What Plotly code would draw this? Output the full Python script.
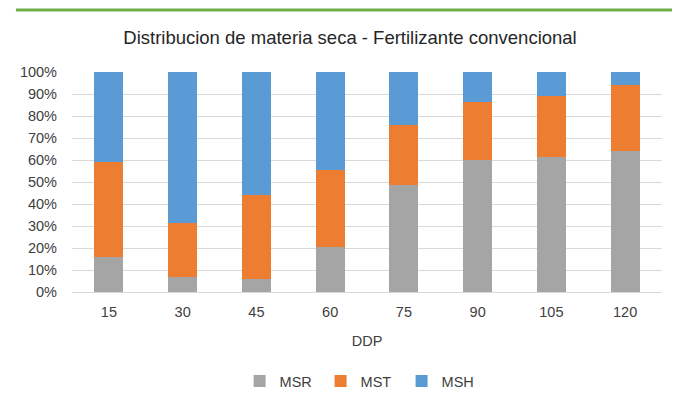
import plotly.graph_objects as go

categories = ["15", "30", "45", "60", "75", "90", "105", "120"]
msr = [16, 7, 6, 20.5, 48.5, 60, 61.5, 64]
mst = [43, 24.5, 38, 35, 27.5, 26.5, 27.5, 30]
msh = [41, 68.5, 56, 44.5, 24, 13.5, 11, 6]
tick_vals = [0, 10, 20, 30, 40, 50, 60, 70, 80, 90, 100]
tick_text = [f"{v}%" for v in tick_vals]

font = "Liberation Sans"
fig = go.Figure()
for name, vals, col in [("MSR", msr, "#A5A5A5"), ("MST", mst, "#ED7D31"), ("MSH", msh, "#5B9BD5")]:
    fig.add_trace(go.Bar(x=categories, y=vals, name=name, marker=dict(color=col, line=dict(width=0))))

# page has an 8px body margin, so figure coords = screen coords - 8
T, B, L, R = 64, 126, 62, 26
ph = 410 - T - B
fig.update_layout(
    barmode="stack",
    bargap=0.61,
    width=680, height=410,
    margin=dict(l=L, r=R, t=T, b=B),
    paper_bgcolor="white", plot_bgcolor="white",
    font=dict(family=font, size=14.5, color="#404040"),
    title=dict(text="Distribucion de materia seca - Fertilizante convencional",
               x=(350 - 8) / 680, xanchor="center", y=1 - 30 / 410, yanchor="middle",
               font=dict(family=font, size=18.5, color="#262626")),
    xaxis=dict(type="category", showgrid=False, showline=True, linecolor="#D9D9D9",
               ticks="", ticklabelstandoff=7,
               title=dict(text="DDP", standoff=16, font=dict(size=14.5, color="#404040"))),
    yaxis=dict(range=[0, 100], tickvals=tick_vals, ticktext=tick_text,
               showgrid=True, gridcolor="#D9D9D9", zeroline=False, ticks="",
               ticklabelstandoff=14),
    legend=dict(orientation="h", x=0.49, xanchor="center",
                y=(ph - (381 - 8 - T)) / ph, yanchor="middle",
                font=dict(size=14.5, color="#404040"), itemwidth=30, entrywidth=36,
                traceorder="normal"),
    shapes=[dict(type="line", xref="paper", yref="paper", x0=-0.095, x1=1.06,
                 y0=(ph - (10 - 8 - T)) / ph, y1=(ph - (10 - 8 - T)) / ph,
                 line=dict(color="#70AD47", width=3))],
)
fig.write_html("out.html")
